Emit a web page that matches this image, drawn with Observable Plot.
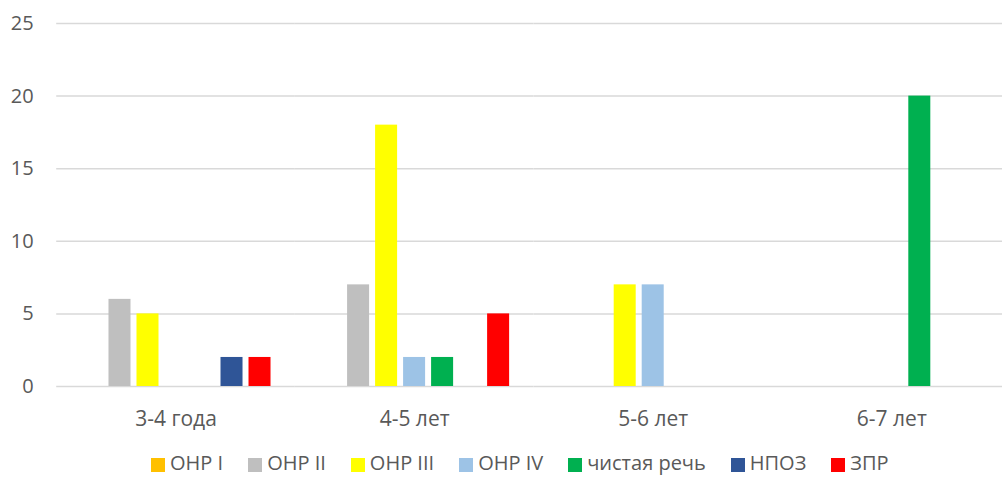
<!DOCTYPE html>
<html>
<head>
<meta charset="utf-8">
<script src="https://cdn.jsdelivr.net/npm/d3@7"></script>
<script src="https://cdn.jsdelivr.net/npm/@observablehq/plot@0.6"></script>
<style>
  html, body { margin: 0; padding: 0; background: #fff; }
  #wrap { position: relative; width: 1002px; height: 477px; overflow: hidden; font-family: "Open Sans", sans-serif; }
  #legend { position: absolute; top: 452px; left: 151px; display: flex; gap: 25px; font-size: 20px; color: #595959; line-height: 22px; white-space: nowrap; }
  #legend .item { display: flex; align-items: center; gap: 5px; }
  #legend .sw { width: 14px; height: 14px; display: inline-block; position: relative; top: 2px; }
</style>
</head>
<body>
<div id="wrap"><div id="chart"></div><div id="legend"></div></div>
<script>
const groups = ["3-4 года", "4-5 лет", "5-6 лет", "6-7 лет"];
const series = ["ОНР I", "ОНР II", "ОНР III", "ОНР IV", "чистая речь", "НПОЗ", "ЗПР"];
const colors = ["#FFC000", "#BFBFBF", "#FFFF00", "#9DC3E6", "#00B050", "#2F5597", "#FF0000"];
const onr1 = [0, 0, 0, 0];
const onr2 = [6, 7, 0, 0];
const onr3 = [5, 18, 7, 0];
const onr4 = [0, 2, 7, 0];
const clean = [0, 2, 0, 20];
const npoz = [2, 0, 0, 0];
const zpr = [2, 5, 0, 0];
const yTicks = [0, 5, 10, 15, 20, 25];

const valuesBySeries = [onr1, onr2, onr3, onr4, clean, npoz, zpr];
const data = [];
series.forEach((s, i) => groups.forEach((g, j) => {
  data.push({group: g, series: s, value: valuesBySeries[i][j]});
}));

const chart = Plot.plot({
  width: 1002,
  height: 445,
  marginTop: 23,
  marginBottom: 59,
  marginLeft: 56,
  marginRight: 0,
  style: {fontFamily: "Open Sans, sans-serif", fontSize: "20px", color: "#595959", background: "#fff"},
  fx: {domain: groups, range: [56.2, 1010.6], padding: 0, round: false, label: null},
  x: {domain: series, paddingInner: 0.214, paddingOuter: 0.867, round: false, axis: null},
  y: {domain: [0, 25], label: null},
  color: {domain: series, range: colors},
  marks: [
    Plot.ruleY(yTicks, {stroke: "#D9D9D9", strokeWidth: 1.5}),
    Plot.barY(data.filter(d => d.value > 0), {fx: "group", x: "series", y: "value", fill: "series"}),
    Plot.axisY(yTicks, {tickSize: 0, tickPadding: 23, fill: "#595959", fontSize: 20, label: null}),
    Plot.axisFx({anchor: "bottom", tickSize: 0, tickPadding: 25, fill: "#595959", fontSize: 21, label: null})
  ]
});
document.getElementById("chart").appendChild(chart);

const legend = document.getElementById("legend");
series.forEach((s, i) => {
  const item = document.createElement("div");
  item.className = "item";
  const sw = document.createElement("span");
  sw.className = "sw";
  sw.style.background = colors[i];
  const t = document.createElement("span");
  t.textContent = s;
  item.appendChild(sw);
  item.appendChild(t);
  legend.appendChild(item);
});
</script>
</body>
</html>
